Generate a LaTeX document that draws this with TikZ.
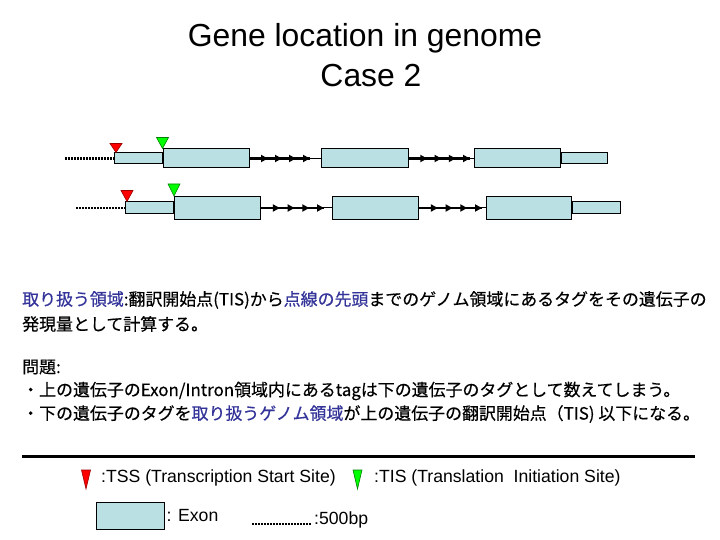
\documentclass[tikz,border=0pt]{standalone}
\usepackage{fontspec}
\setmainfont{Liberation Sans}
\newfontfamily\jpfont[FakeBold=0.4]{Noto Sans CJK JP}
\usetikzlibrary{positioning,arrows.meta,decorations.markings}
\definecolor{exonblue}{RGB}{187,224,227}
\definecolor{textblue}{RGB}{51,51,153}
\definecolor{tssred}{RGB}{255,0,0}
\definecolor{tisgreen}{RGB}{0,255,0}

\begin{document}
\begin{tikzpicture}[
        x=1bp, y=-1bp,
        exon/.style={rectangle, draw=black, line width=1bp, fill=exonblue,
            minimum width=86bp, minimum height=19bp, inner sep=0pt},
        utr/.style={exon, minimum width=48bp, minimum height=11bp},
        intron/.style={line width=2.5bp, postaction={decorate},
            decoration={markings, mark=between positions 0.3 and 1 step 0.2333
                with {\arrow{Triangle[length=7bp,width=7bp]}}}},
        linker/.style={line width=1bp},
        dotline/.style={line width=2.8bp, dash pattern=on 2bp off 1bp},
        tss/.style={fill=tssred, draw=tssred!60!black, line width=0.6bp},
        tis/.style={fill=tisgreen, draw=tisgreen!50!black, line width=0.6bp},
        jtext/.style={anchor=west, inner sep=0pt, font=\jpfont\fontsize{17}{20}\selectfont},
        legtext/.style={anchor=west, inner sep=0pt, font=\fontsize{17.7}{21}\selectfont}
    ]
    \useasboundingbox (0,0) rectangle (720,540);

    \node[anchor=base, inner sep=0pt, font=\fontsize{32}{38}\selectfont] (title) at (365,47) {Gene location in genome};
    \node[anchor=base, inner sep=0pt, font=\fontsize{32}{38}\selectfont] (case) at (371,87) {Case 2};

    % upper gene
    \node[utr, anchor=west] (u51) at (114,158.5) {};
    \node[exon, right=0pt of u51] (ex11) {};
    \node[exon, right=71bp of ex11, minimum width=87bp] (ex12) {};
    \node[exon, right=65bp of ex12] (ex13) {};
    \node[utr, right=0pt of ex13, minimum width=46bp] (u31) {};

    \coordinate (dot1) at (65,158.5);
    \coordinate[left=11bp of ex12.west] (i11);
    \coordinate[left=4bp of ex13.west] (i12);
    \draw[dotline] (dot1) -- (u51);
    \draw[intron] (ex11) -- (i11);
    \draw[linker] (i11) -- (ex12);
    \draw[intron] (ex12) -- (i12);
    \draw[linker] (i12) -- (ex13);

    \draw[tss] ([xshift=2bp]u51.north west) -- ++(-6,-9) -- ++(12,0) -- cycle;
    \draw[tis] ([xshift=-0.5bp]ex11.north west) -- ++(-6,-11) -- ++(12,0) -- cycle;

    % lower gene
    \node[utr, anchor=west, minimum height=12bp] (u52) at (125,208) {};
    \node[exon, right=0pt of u52, minimum height=23bp] (ex21) {};
    \node[exon, right=71bp of ex21, minimum height=23bp] (ex22) {};
    \node[exon, right=67bp of ex22, minimum height=23bp, minimum width=85bp] (ex23) {};
    \node[utr, right=0pt of ex23, minimum height=12bp] (u32) {};

    \coordinate (dot2) at (76,208);
    \coordinate[left=8bp of ex22.west] (i21);
    \coordinate[left=4bp of ex23.west] (i22);
    \draw[dotline] (dot2) -- (u52);
    \draw[intron] (ex21) -- (i21);
    \draw[linker] (i21) -- (ex22);
    \draw[intron] (ex22) -- (i22);
    \draw[linker] (i22) -- (ex23);

    \draw[tss] ([xshift=2bp]u52.north west) -- ++(-6,-11) -- ++(12,0) -- cycle;
    \draw[tis] (ex21.north west) -- ++(-6,-12) -- ++(12,0) -- cycle;

    % text
    \node[jtext] (scope1) at (22,300) {\textcolor{textblue}{取り扱う領域}:翻訳開始点(TIS)から\textcolor{textblue}{点線の先頭}までのゲノム領域にあるタグをその遺伝子の};
    \node[jtext] (scope2) at (22,324) {発現量として計算する。};
    \node[jtext] (issue) at (22,367) {問題:};
    \node[jtext] (issue1) at (22,391) {・上の遺伝子のExon/Intron領域内にあるtagは下の遺伝子のタグとして数えてしまう。};
    \node[jtext] (issue2) at (22,414) {・下の遺伝子のタグを\textcolor{textblue}{取り扱うゲノム領域}が上の遺伝子の翻訳開始点（TIS) 以下になる。};

    % legend
    \coordinate (sepL) at (22,456);
    \coordinate (sepR) at (695,456);
    \draw[line width=3bp] (sepL) -- (sepR);

    \coordinate (legtss) at (86,489);
    \draw[tss] (legtss) -- ++(-4.5,-19) -- ++(9,0) -- cycle;
    \node[legtext] (tsstext) at (101,478) {:TSS (Transcription Start Site)};
    \coordinate (legtis) at (357.5,489);
    \draw[tis] (legtis) -- ++(-4.5,-19) -- ++(9,0) -- cycle;
    \node[legtext] (tistext) at (374,478) {:TIS (Translation\ \ Initiation Site)};

    \node[exon, minimum width=68bp, minimum height=27bp] (legexon) at (130,515.5) {};
    \node[legtext, right=2bp of legexon] (exontext) {: Exon};
    \coordinate (bpL) at (252,524);
    \coordinate (bpR) at (312,524);
    \draw[dotline] (bpL) -- (bpR);
    \node[legtext] (bptext) at (314,520) {:500bp};
\end{tikzpicture}
\end{document}
